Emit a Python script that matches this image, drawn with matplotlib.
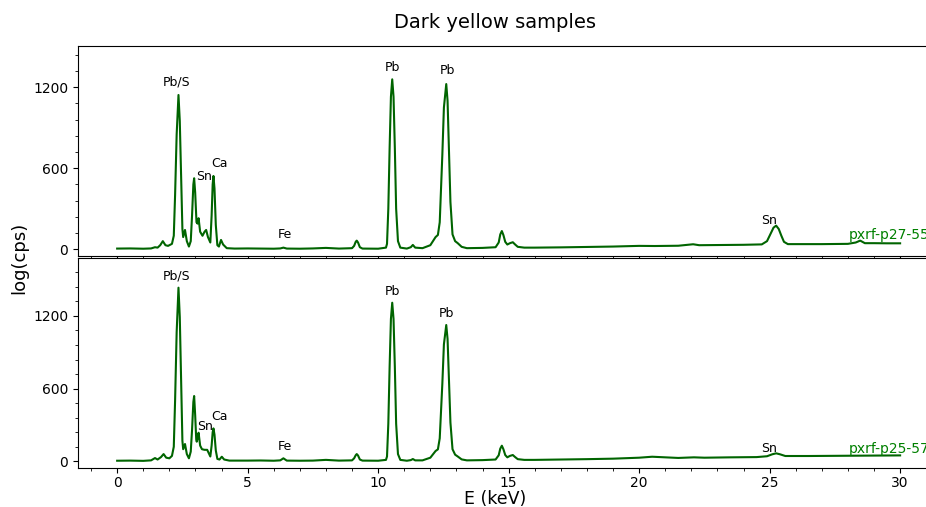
import numpy as np
import matplotlib
matplotlib.use("Agg")
import matplotlib.pyplot as plt
from matplotlib.ticker import MultipleLocator, AutoMinorLocator

# spectra (energy in keV, counts)
e_p27 = [0.0, 0.5, 1.0, 1.3, 1.45, 1.55, 1.65, 1.75, 1.85, 1.95, 2.1, 2.17, 2.22, 2.28, 2.35,
         2.4, 2.45, 2.5, 2.53, 2.6, 2.67, 2.75, 2.82, 2.87, 2.92, 2.95, 2.99, 3.04, 3.08, 3.12,
         3.18, 3.27, 3.35, 3.41, 3.48, 3.57, 3.62, 3.66, 3.69, 3.73, 3.78, 3.84, 3.9, 3.98, 4.06,
         4.2, 4.5, 5.0, 5.5, 6.0, 6.25, 6.37, 6.5, 7.0, 7.5, 8.0, 8.5, 9.0, 9.08, 9.14,
         9.18, 9.23, 9.3, 9.4, 10.0, 10.3, 10.34, 10.39, 10.44, 10.49, 10.54, 10.59, 10.64, 10.69,
         10.76, 10.85, 11.1, 11.25, 11.33, 11.42, 11.7, 12.0, 12.2, 12.29, 12.36, 12.46, 12.52, 12.61,
         12.66, 12.71, 12.77, 12.85, 12.95, 13.05, 13.2, 13.4, 14.0, 14.5, 14.62, 14.68, 14.74, 14.8,
         14.87, 14.95, 15.05, 15.16, 15.25, 15.35, 15.6, 16.0, 17.0, 18.0, 19.0, 20.0, 20.6, 21.5,
         22.07, 22.3, 23.0, 24.0, 24.7, 24.9, 25.05, 25.15, 25.25, 25.35, 25.45, 25.55, 25.7, 27.0,
         28.0, 28.3, 28.47, 28.65, 29.0, 29.5, 30.0]
c_p27 = [5, 6, 4, 6, 15, 12, 30, 60, 30, 25, 40, 100, 400, 850, 1143,
         950, 550, 150, 90, 143, 60, 20, 60, 250, 480, 526, 420, 200, 190, 230,
         130, 100, 130, 143, 90, 50, 250, 480, 543, 450, 180, 30, 20, 69, 35,
         8, 5, 6, 5, 4, 6, 12, 5, 4, 6, 10, 5, 8, 25, 55,
         64, 50, 15, 5, 4, 12, 40, 300, 750, 1130, 1259, 1130, 750, 300,
         60, 12, 5, 15, 32, 12, 8, 30, 90, 106, 200, 700, 1050, 1224,
         1100, 750, 350, 110, 60, 45, 18, 8, 10, 15, 50, 110, 135, 105,
         55, 35, 45, 52, 35, 18, 12, 12, 14, 17, 20, 25, 24, 26,
         37, 30, 31, 33, 36, 60, 120, 160, 175, 150, 100, 55, 38, 38,
         40, 50, 64, 45, 45, 44, 44]

e_p25 = [0.0, 0.5, 1.0, 1.3, 1.45, 1.55, 1.68, 1.78, 1.88, 2.0, 2.1, 2.17, 2.22, 2.28, 2.35,
         2.4, 2.45, 2.5, 2.53, 2.6, 2.67, 2.75, 2.82, 2.87, 2.92, 2.95, 2.99, 3.03, 3.05, 3.09,
         3.12, 3.18, 3.25, 3.35, 3.45, 3.57, 3.62, 3.66, 3.69, 3.73, 3.78, 3.84, 3.92, 4.01, 4.1,
         4.3, 5.0, 5.5, 6.0, 6.25, 6.37, 6.5, 7.0, 7.5, 8.0, 8.5, 9.0, 9.08, 9.14, 9.18,
         9.23, 9.3, 9.4, 10.0, 10.3, 10.34, 10.39, 10.44, 10.49, 10.54, 10.59, 10.64, 10.69, 10.76,
         10.85, 11.1, 11.25, 11.33, 11.42, 11.7, 12.0, 12.2, 12.29, 12.36, 12.46, 12.52, 12.61, 12.66,
         12.71, 12.77, 12.85, 12.95, 13.05, 13.2, 13.4, 14.0, 14.5, 14.62, 14.68, 14.74, 14.8, 14.87,
         14.95, 15.05, 15.16, 15.25, 15.35, 15.6, 16.0, 17.0, 18.0, 19.0, 20.0, 20.5, 21.0, 21.5,
         22.1, 22.5, 23.5, 24.5, 24.9, 25.1, 25.25, 25.4, 25.6, 26.5, 28.0, 29.0, 30.0]
c_p25 = [5, 6, 4, 8, 27, 15, 35, 60, 30, 25, 45, 120, 500, 1065, 1433,
         1190, 690, 170, 100, 143, 60, 25, 80, 260, 490, 539, 380, 180, 162, 200,
         236, 130, 100, 95, 95, 40, 130, 240, 272, 220, 90, 20, 15, 38, 15,
         6, 6, 7, 5, 8, 25, 6, 5, 6, 12, 6, 8, 25, 50, 60,
         48, 15, 6, 5, 12, 40, 310, 780, 1175, 1309, 1175, 780, 310, 60,
         12, 5, 10, 19, 8, 8, 30, 85, 99, 190, 640, 965, 1125, 1010,
         690, 320, 100, 55, 40, 16, 8, 10, 15, 50, 105, 129, 100, 52,
         33, 45, 52, 35, 18, 12, 12, 15, 18, 22, 30, 38, 33, 28,
         33, 30, 33, 35, 42, 58, 66, 58, 44, 44, 46, 48, 49]

# peak labels: (text, energy, counts)
labels_p27 = [("Pb/S", 2.26, 1239), ("Sn", 3.33, 536), ("Ca", 3.91, 632), ("Fe", 6.44, 106),
              ("Pb", 10.54, 1350), ("Pb", 12.64, 1321), ("Sn", 24.98, 210)]
labels_p25 = [("Pb/S", 2.26, 1529), ("Sn", 3.37, 291), ("Ca", 3.91, 374), ("Fe", 6.44, 121),
              ("Pb", 10.55, 1405), ("Pb", 12.63, 1221), ("Sn", 24.99, 107)]

samples = [("pxrf-p27-55", e_p27, c_p27, labels_p27, (-50, 1506), 106),
           ("pxrf-p25-57", e_p25, c_p25, labels_p25, (-55, 1678), 99)]

fig = plt.figure(figsize=(9.26, 5.07), dpi=100)
W, H = 926.0, 507.0
left, right = 78 / W, 945 / W
boxes = [(46, 256), (258, 468)]

axes = []
for (top, bot), (name, e, c, labels, ylim, name_y) in zip(boxes, samples):
    ax = fig.add_axes([left, 1 - bot / H, right - left, (bot - top) / H],
                      sharex=axes[0] if axes else None)
    ax.plot(e, c, color="darkgreen", lw=1.5)
    for txt, x, y in labels:
        ax.text(x, y, txt, ha="center", va="center", fontsize=9)
    ax.text(28.02, name_y, name, color="green", fontsize=10, va="center", ha="left")
    ax.set_ylim(*ylim)
    ax.yaxis.set_major_locator(MultipleLocator(600))
    ax.yaxis.set_minor_locator(AutoMinorLocator(5))
    ax.xaxis.set_major_locator(MultipleLocator(5))
    ax.xaxis.set_minor_locator(MultipleLocator(1))
    ax.tick_params(labelsize=10)
    ax.tick_params(axis="x", pad=2.5)
    axes.append(ax)

axes[0].set_xlim(-1.5, 31.72)
axes[0].tick_params(labelbottom=False)

fig.text(495 / W, 1 - 23 / H, "Dark yellow samples", ha="center", va="center", fontsize=14)
fig.text(19 / W, 1 - 258 / H, "log(cps)", rotation=90, ha="center", va="center", fontsize=13)
fig.text(495 / W, 1 - 499 / H, "E (keV)", ha="center", va="center", fontsize=12.5)

fig.savefig("out.png", dpi=100)
